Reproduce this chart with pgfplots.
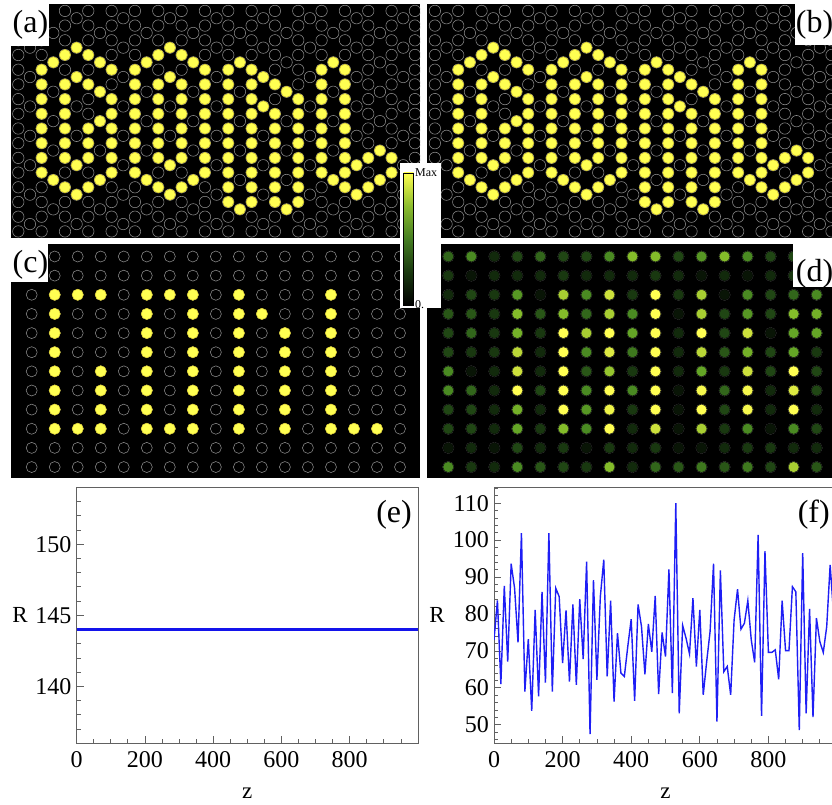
\documentclass[border=0pt]{standalone}
\usepackage{fontspec}
\setmainfont{Liberation Serif}
\usepackage{pgfplots}
\pgfplotsset{compat=1.18}
\usepackage{pgfplotstable}

\definecolor{ylw}{rgb}{1,1,0.32}
\definecolor{ylwedge}{rgb}{0.86,0.80,0.18}
\definecolor{ring}{gray}{0.55}
\definecolor{frm}{gray}{0.38}

% honeycomb-like lattice, main sites (column, row)
\pgfplotstableread[row sep=\\]{
x y\\
0 0\\0 1\\0 2\\0 3\\0 4\\0 5\\0 6\\0 7\\0 8\\0 9\\0 10\\0 11\\0 12\\0 13\\0 14\\0 15\\
1 0\\1 1\\1 2\\1 3\\1 4\\1 5\\1 6\\1 7\\1 8\\1 9\\1 10\\1 11\\1 12\\1 13\\1 14\\1 15\\
2 0\\2 1\\2 2\\2 3\\2 4\\2 5\\2 6\\2 7\\2 8\\2 9\\2 10\\2 11\\2 12\\2 13\\2 14\\2 15\\
3 0\\3 1\\3 2\\3 3\\3 4\\3 5\\3 6\\3 7\\3 8\\3 9\\3 10\\3 11\\3 12\\3 13\\3 14\\3 15\\
4 0\\4 1\\4 2\\4 3\\4 4\\4 5\\4 6\\4 7\\4 8\\4 9\\4 10\\4 11\\4 12\\4 13\\4 14\\4 15\\
5 0\\5 1\\5 2\\5 3\\5 4\\5 5\\5 6\\5 7\\5 8\\5 9\\5 10\\5 11\\5 12\\5 13\\5 14\\5 15\\
6 0\\6 1\\6 2\\6 3\\6 4\\6 5\\6 6\\6 7\\6 8\\6 9\\6 10\\6 11\\6 12\\6 13\\6 14\\6 15\\
7 0\\7 1\\7 2\\7 3\\7 4\\7 5\\7 6\\7 7\\7 8\\7 9\\7 10\\7 11\\7 12\\7 13\\7 14\\7 15\\
8 0\\8 1\\8 2\\8 3\\8 4\\8 5\\8 6\\8 7\\8 8\\8 9\\8 10\\8 11\\8 12\\8 13\\8 14\\8 15\\
9 0\\9 1\\9 2\\9 3\\9 4\\9 5\\9 6\\9 7\\9 8\\9 9\\9 10\\9 11\\9 12\\9 13\\9 14\\9 15\\
10 0\\10 1\\10 2\\10 3\\10 4\\10 5\\10 6\\10 7\\10 8\\10 9\\10 10\\10 11\\10 12\\10 13\\10 14\\10 15\\
11 0\\11 1\\11 2\\11 3\\11 4\\11 5\\11 6\\11 7\\11 8\\11 9\\11 10\\11 11\\11 12\\11 13\\11 14\\11 15\\
12 0\\12 1\\12 2\\12 3\\12 4\\12 5\\12 6\\12 7\\12 8\\12 9\\12 10\\12 11\\12 12\\12 13\\12 14\\12 15\\
13 0\\13 1\\13 2\\13 3\\13 4\\13 5\\13 6\\13 7\\13 8\\13 9\\13 10\\13 11\\13 12\\13 13\\13 14\\13 15\\
14 0\\14 1\\14 2\\14 3\\14 4\\14 5\\14 6\\14 7\\14 8\\14 9\\14 10\\14 11\\14 12\\14 13\\14 14\\14 15\\
15 0\\15 1\\15 2\\15 3\\15 4\\15 5\\15 6\\15 7\\15 8\\15 9\\15 10\\15 11\\15 12\\15 13\\15 14\\15 15\\
16 0\\16 1\\16 2\\16 3\\16 4\\16 5\\16 6\\16 7\\16 8\\16 9\\16 10\\16 11\\16 12\\16 13\\16 14\\16 15\\
17 0\\17 1\\17 2\\17 3\\17 4\\17 5\\17 6\\17 7\\17 8\\17 9\\17 10\\17 11\\17 12\\17 13\\17 14\\17 15\\
}\latA

% intermediate sites
\pgfplotstableread[row sep=\\]{
x y\\
0.5 0.5\\0.5 2.5\\0.5 4.5\\0.5 6.5\\0.5 8.5\\0.5 10.5\\0.5 12.5\\0.5 14.5\\
1.5 -0.5\\1.5 1.5\\1.5 3.5\\1.5 5.5\\1.5 7.5\\1.5 9.5\\1.5 11.5\\1.5 13.5\\1.5 15.5\\
2.5 0.5\\2.5 2.5\\2.5 4.5\\2.5 6.5\\2.5 8.5\\2.5 10.5\\2.5 12.5\\2.5 14.5\\
3.5 -0.5\\3.5 1.5\\3.5 3.5\\3.5 5.5\\3.5 7.5\\3.5 9.5\\3.5 11.5\\3.5 13.5\\3.5 15.5\\
4.5 0.5\\4.5 2.5\\4.5 4.5\\4.5 6.5\\4.5 8.5\\4.5 10.5\\4.5 12.5\\4.5 14.5\\
5.5 -0.5\\5.5 1.5\\5.5 3.5\\5.5 5.5\\5.5 7.5\\5.5 9.5\\5.5 11.5\\5.5 13.5\\5.5 15.5\\
6.5 0.5\\6.5 2.5\\6.5 4.5\\6.5 6.5\\6.5 8.5\\6.5 10.5\\6.5 12.5\\6.5 14.5\\
7.5 -0.5\\7.5 1.5\\7.5 3.5\\7.5 5.5\\7.5 7.5\\7.5 9.5\\7.5 11.5\\7.5 13.5\\7.5 15.5\\
8.5 0.5\\8.5 2.5\\8.5 4.5\\8.5 6.5\\8.5 8.5\\8.5 10.5\\8.5 12.5\\8.5 14.5\\
9.5 -0.5\\9.5 1.5\\9.5 3.5\\9.5 5.5\\9.5 7.5\\9.5 9.5\\9.5 11.5\\9.5 13.5\\9.5 15.5\\
10.5 0.5\\10.5 2.5\\10.5 4.5\\10.5 6.5\\10.5 8.5\\10.5 10.5\\10.5 12.5\\10.5 14.5\\
11.5 -0.5\\11.5 1.5\\11.5 3.5\\11.5 5.5\\11.5 7.5\\11.5 9.5\\11.5 11.5\\11.5 13.5\\11.5 15.5\\
12.5 0.5\\12.5 2.5\\12.5 4.5\\12.5 6.5\\12.5 8.5\\12.5 10.5\\12.5 12.5\\12.5 14.5\\
13.5 -0.5\\13.5 1.5\\13.5 3.5\\13.5 5.5\\13.5 7.5\\13.5 9.5\\13.5 11.5\\13.5 13.5\\13.5 15.5\\
14.5 0.5\\14.5 2.5\\14.5 4.5\\14.5 6.5\\14.5 8.5\\14.5 10.5\\14.5 12.5\\14.5 14.5\\
15.5 -0.5\\15.5 1.5\\15.5 3.5\\15.5 5.5\\15.5 7.5\\15.5 9.5\\15.5 11.5\\15.5 13.5\\15.5 15.5\\
16.5 0.5\\16.5 2.5\\16.5 4.5\\16.5 6.5\\16.5 8.5\\16.5 10.5\\16.5 12.5\\16.5 14.5\\
}\latAi

% lit sites, letters GOAL (panels a, b)
\pgfplotstableread[row sep=\\]{
x y\\
1 4\\1 5\\1 6\\1 7\\1 8\\1 9\\1 10\\1 11\\
2 3\\2 5\\2 6\\2 7\\2 8\\2 9\\2 10\\2 12\\
3 3\\3 5\\3 8\\3 9\\3 10\\3 12\\
4 4\\4 6\\4 7\\4 8\\4 9\\4 10\\4 11\\
1.5 3.5\\1.5 11.5\\
2.5 2.5\\2.5 4.5\\2.5 10.5\\2.5 12.5\\
3.5 3.5\\3.5 5.5\\3.5 7.5\\3.5 11.5\\
5 4\\5 5\\5 6\\5 7\\5 8\\5 9\\5 10\\5 11\\
6 3\\6 5\\6 6\\6 7\\6 8\\6 9\\6 10\\6 12\\
7 3\\7 5\\7 6\\7 7\\7 8\\7 9\\7 10\\7 12\\
8 4\\8 5\\8 6\\8 7\\8 8\\8 9\\8 10\\8 11\\
5.5 3.5\\5.5 11.5\\
6.5 2.5\\6.5 4.5\\6.5 10.5\\6.5 12.5\\
7.5 3.5\\7.5 11.5\\
9 4\\9 5\\9 6\\9 7\\9 8\\9 9\\9 10\\9 11\\9 12\\9 13\\
10 4\\10 5\\10 6\\10 7\\10 8\\10 9\\10 10\\10 11\\10 12\\10 13\\
11 5\\11 7\\11 8\\11 9\\11 10\\11 11\\11 12\\11 13\\
12 6\\12 7\\12 8\\12 9\\12 10\\12 11\\12 12\\12 13\\
9.5 3.5\\9.5 13.5\\
10.5 4.5\\10.5 6.5\\
11.5 5.5\\11.5 13.5\\
13 4\\13 5\\13 6\\13 7\\13 8\\13 9\\13 10\\13 11\\
14 4\\14 5\\14 6\\14 7\\14 8\\14 9\\14 10\\14 11\\14 12\\
13.5 3.5\\13.5 11.5\\
14.5 10.5\\14.5 12.5\\
15 10\\15 12\\
15.5 9.5\\15.5 11.5\\
16 10\\16 11\\
}\litA

% square lattice with intensities of panel (d)
\pgfplotstableread[row sep=\\]{
x y v\\
0 0 3\\1 0 4\\2 0 1\\3 0 2\\4 0 3\\5 0 2\\6 0 2\\7 0 4\\8 0 6\\9 0 6\\10 0 2\\11 0 4.5\\12 0 6\\13 0 4\\14 0 2\\15 0 2\\16 0 2\\
0 1 1.5\\1 1 0.5\\2 1 1\\3 1 1\\4 1 1\\5 1 1.5\\6 1 1\\7 1 1\\8 1 1\\9 1 1.5\\10 1 1\\11 1 0.5\\12 1 1\\13 1 0.5\\14 1 1\\15 1 1.5\\16 1 1\\
0 2 1\\1 2 2\\2 2 1.5\\3 2 4.5\\4 2 0.5\\5 2 7\\6 2 4\\7 2 8\\8 2 1.5\\9 2 10\\10 2 1.5\\11 2 7\\12 2 0.5\\13 2 4\\14 2 2\\15 2 3\\16 2 4\\
0 3 2.5\\1 3 2.5\\2 3 1.5\\3 3 6\\4 3 2.5\\5 3 6\\6 3 3\\7 3 7\\8 3 4\\9 3 10\\10 3 0.5\\11 3 7\\12 3 2\\13 3 4.5\\14 3 2\\15 3 6\\16 3 5.5\\
0 4 2\\1 4 3\\2 4 1.5\\3 4 5.5\\4 4 1.5\\5 4 10\\6 4 7\\7 4 10\\8 4 5\\9 4 10\\10 4 1\\11 4 10\\12 4 2\\13 4 8\\14 4 0.5\\15 4 5\\16 4 5\\
0 5 2\\1 5 1.5\\2 5 1.5\\3 5 7.5\\4 5 1\\5 5 10\\6 5 4\\7 5 8.5\\8 5 3.5\\9 5 10\\10 5 1\\11 5 7.5\\12 5 2.5\\13 5 5.5\\14 5 2\\15 5 5\\16 5 1.5\\
0 6 4\\1 6 0.5\\2 6 1\\3 6 8\\4 6 1\\5 6 10\\6 6 2.5\\7 6 6.5\\8 6 1.5\\9 6 10\\10 6 1\\11 6 5\\12 6 1.5\\13 6 8\\14 6 2\\15 6 10\\16 6 2\\
0 7 4\\1 7 3\\2 7 1\\3 7 10\\4 7 2\\5 7 10\\6 7 4\\7 7 10\\8 7 4\\9 7 10\\10 7 0.5\\11 7 9.5\\12 7 3\\13 7 9.5\\14 7 1\\15 7 8.5\\16 7 2\\
0 8 2\\1 8 2\\2 8 1\\3 8 5.5\\4 8 1\\5 8 10\\6 8 4.5\\7 8 9\\8 8 1.5\\9 8 10\\10 8 0.5\\11 8 10\\12 8 2\\13 8 9.5\\14 8 1\\15 8 10\\16 8 1\\
0 9 2\\1 9 2\\2 9 1\\3 9 5\\4 9 1.5\\5 9 6\\6 9 4\\7 9 10\\8 9 1\\9 9 8\\10 9 0.5\\11 9 7\\12 9 1.5\\13 9 4\\14 9 0.5\\15 9 4\\16 9 2\\
0 10 0.5\\1 10 1\\2 10 0.5\\3 10 2\\4 10 1\\5 10 1.5\\6 10 0.5\\7 10 1.5\\8 10 1\\9 10 1.5\\10 10 0.5\\11 10 0.5\\12 10 1\\13 10 1.5\\14 10 1.5\\15 10 1\\16 10 1\\
0 11 4\\1 11 1.5\\2 11 1\\3 11 4\\4 11 2.5\\5 11 2\\6 11 1.5\\7 11 6\\8 11 1\\9 11 3\\10 11 2.5\\11 11 3.5\\12 11 2.5\\13 11 3.5\\14 11 2\\15 11 7\\16 11 2.5\\
}\latC

% lit sites of panel (c)
\pgfplotstableread[row sep=\\]{
x y\\
1 2\\2 2\\3 2\\5 2\\6 2\\7 2\\9 2\\13 2\\
1 3\\5 3\\7 3\\9 3\\10 3\\13 3\\
1 4\\5 4\\7 4\\9 4\\11 4\\13 4\\
1 5\\5 5\\7 5\\9 5\\11 5\\13 5\\
1 6\\3 6\\5 6\\7 6\\9 6\\11 6\\13 6\\
1 7\\3 7\\5 7\\7 7\\9 7\\11 7\\13 7\\
1 8\\3 8\\5 8\\7 8\\9 8\\11 8\\13 8\\
1 9\\2 9\\3 9\\5 9\\6 9\\7 9\\9 9\\11 9\\13 9\\14 9\\15 9\\
}\litC

% R(z) of panel (f)
\pgfplotstableread[row sep=\\]{
z R\\
0 73\\10 83.7\\20 61\\30 87.6\\40 67.1\\50 93.6\\60 87\\70 72.3\\80 101.9\\90 59\\
100 73.2\\110 53.8\\120 81.1\\130 57.7\\140 86\\150 61.4\\160 101.9\\170 59\\180 87\\190 84.7\\
200 66.7\\210 81\\220 61.7\\230 82.6\\240 60.8\\250 84\\260 67.8\\270 94.2\\280 47.5\\290 89.2\\
300 62.2\\310 84.7\\320 94.7\\330 63.1\\340 83.6\\350 56.3\\360 74.8\\370 64\\380 63.1\\390 71.2\\
400 78.6\\410 56.5\\420 82.6\\430 76.6\\440 63.7\\450 77.3\\460 69.8\\470 84.9\\480 58.3\\490 75\\
500 68.5\\510 92.1\\520 58.6\\530 110\\540 53.1\\550 76.9\\560 73.4\\570 69.2\\580 84.3\\590 65.8\\
600 81.1\\610 58.1\\620 67.1\\630 75.3\\640 93.6\\650 50.9\\660 91.8\\670 64.4\\680 65.8\\690 58.1\\
700 78.4\\710 86.7\\720 75.9\\730 77.5\\740 83.6\\750 73\\760 66.9\\770 101.4\\780 52.4\\790 97\\
800 69.6\\810 69.6\\820 70.3\\830 62.3\\840 83.6\\850 70.1\\860 70.1\\870 87.4\\880 86\\890 48.6\\
900 96.5\\910 53.1\\920 81.4\\930 52.1\\940 78.9\\950 72.5\\960 69.6\\970 76.6\\980 93.3\\990 80\\
}\tabF

\pgfplotsset{
  latt/.style={scale only axis, anchor=south west, axis line style={draw=none},
    ticks=none, axis background/.style={fill=black}, clip marker paths=true,
    y dir=reverse},
  ringplot/.style={only marks, mark=o, mark options={draw=ring, line width=0.55pt}},
  litplot/.style={only marks, mark=*, mark options={fill=ylw, draw=ylwedge, line width=0.5pt}},
  rplot/.style={scale only axis, anchor=south west, width=341.3pt, height=256pt,
    xmin=0, xmax=1000, axis line style={draw=frm, line width=0.9pt},
    tick style={draw=frm, line width=0.8pt}, tick align=inside,
    xtick pos=bottom, ytick pos=left,
    major tick length=7pt, minor tick length=4pt,
    xtick={0,200,400,600,800}, minor xtick={0,50,...,1000},
    /pgf/number format/assume math mode=true,
    tick label style={font=\fontsize{24}{24}\selectfont},
    yticklabel style={inner sep=0pt, xshift=-5pt},
    xticklabel style={inner sep=0pt, yshift=-8pt},
    every axis x label/.style={at={(axis description cs:0.5,-0.195)}, anchor=center, font=\fontsize{23}{23}\selectfont},
    every axis y label/.style={at={(axis description cs:-0.166,0.5)}, anchor=center, font=\fontsize{23}{23}\selectfont},
    xlabel={z}, ylabel={R}},
  colormap={ygreen}{rgb255=(0,0,0) rgb255=(18,42,12) rgb255=(32,70,20) rgb255=(50,102,27) rgb255=(74,138,34) rgb255=(100,165,38) rgb255=(132,188,42) rgb255=(168,206,50) rgb255=(205,225,60) rgb255=(238,244,72) rgb255=(255,255,82)}
}

\pgfdeclareverticalshading{cbar}{100bp}{rgb(0bp)=(0,0,0); rgb(25bp)=(0,0,0); rgb(37.5bp)=(0.1,0.22,0.06); rgb(50bp)=(0.27,0.49,0.13); rgb(62.5bp)=(0.55,0.74,0.18); rgb(75bp)=(1,1,0.31); rgb(100bp)=(1,1,0.31)}

\begin{document}
\begin{tikzpicture}
\useasboundingbox (0pt,0pt) rectangle (832pt,-805pt);
\fill[white] (0pt,0pt) rectangle (832pt,-805pt);

% (a)
\begin{axis}[latt, at={(11pt,-238pt)}, width=409pt, height=234pt,
  xmin=-0.3129, xmax=17.218, ymin=-0.4694, ymax=15.449]
\addplot[ringplot, mark size=5.7pt] table {\latA};
\addplot[ringplot, mark size=5.7pt] table {\latAi};
\addplot[litplot, mark size=5.5pt] table {\litA};
\end{axis}

% (b)
\begin{axis}[latt, at={(426.5pt,-238pt)}, width=405.5pt, height=234pt,
  xmin=-0.36, xmax=17.021, ymin=-0.4694, ymax=15.449]
\addplot[ringplot, mark size=5.7pt] table {\latA};
\addplot[ringplot, mark size=5.7pt] table {\latAi};
\addplot[litplot, mark size=5.5pt] table {\litA};
\end{axis}

% (c)
\begin{axis}[latt, at={(11pt,-478pt)}, width=409pt, height=234pt,
  xmin=-0.899, xmax=16.868, ymin=-0.653, ymax=11.573]
\addplot[ringplot, mark size=5.5pt] table[x=x,y=y] {\latC};
\addplot[litplot, mark size=5.6pt] table {\litC};
\end{axis}

% (d)
\begin{axis}[latt, at={(426.5pt,-478pt)}, width=405.5pt, height=234pt,
  xmin=-0.947, xmax=16.668, ymin=-0.653, ymax=11.573,
  colormap name=ygreen, point meta min=0, point meta max=10]
\addplot[ringplot, mark size=5.5pt] table[x=x,y=y] {\latC};
\addplot[scatter, only marks, mark=*, mark size=5.5pt, scatter src=explicit,
  scatter/use mapped color={draw=none, fill=mapped color}] table[x=x,y=y,meta=v] {\latC};
\end{axis}

% (e)
\begin{axis}[rplot, at={(76.7pt,-743.3pt)}, ymin=136, ymax=154,
  ytick={140,145,150}, minor ytick={136,...,154}]
\addplot[color={rgb,255:red,20;green,20;blue,235}, line width=3.5pt] coordinates {(0,144) (1000,144)};
\node[anchor=base east, inner sep=0pt, font=\fontsize{32}{32}\selectfont] at (axis description cs:1,1) [xshift=-6pt, yshift=-35pt] {(e)};
\end{axis}

% (f)
\begin{axis}[rplot, at={(494pt,-743.3pt)}, width=343pt, ymin=45, ymax=114.3,
  ytick={50,60,...,110}, minor ytick={46,48,...,114}]
\addplot[color={rgb,255:red,30;green,30;blue,245}, line width=1.4pt] table[x=z,y=R] {\tabF};
\node[anchor=base east, inner sep=0pt, font=\fontsize{32}{32}\selectfont] at (axis description cs:1,1) [xshift=-7pt, yshift=-35pt] {(f)};
\end{axis}

% panel labels
\fill[white] (11pt,-4pt) rectangle (49pt,-46.5pt);
\node[anchor=base, inner sep=0pt, font=\fontsize{32}{32}\selectfont] at (30.5pt,-33pt) {(a)};
\fill[white] (795pt,-4pt) rectangle (832pt,-45pt);
\node[anchor=base, inner sep=0pt, font=\fontsize{32}{32}\selectfont] at (814.5pt,-33pt) {(b)};
\fill[white] (11pt,-244pt) rectangle (48pt,-281.5pt);
\node[anchor=base, inner sep=0pt, font=\fontsize{32}{32}\selectfont] at (30.5pt,-272.5pt) {(c)};
\fill[white] (793pt,-244pt) rectangle (832pt,-286.5pt);
\node[anchor=base, inner sep=0pt, font=\fontsize{32}{32}\selectfont] at (814.5pt,-281pt) {(d)};

% colour bar
\fill[white] (400pt,-163pt) rectangle (441pt,-308pt);
\shade[shading=cbar] (403.5pt,-305pt) rectangle (413.5pt,-173pt);
\draw[black, line width=0.8pt] (403.5pt,-305pt) rectangle (413.5pt,-173pt);
\node[anchor=base west, inner sep=0pt, font=\fontsize{12}{12}\selectfont] at (415pt,-177pt) {Max};
\node[anchor=base west, inner sep=0pt, font=\fontsize{12}{12}\selectfont] at (415pt,-308pt) {0.};
\end{tikzpicture}
\end{document}
